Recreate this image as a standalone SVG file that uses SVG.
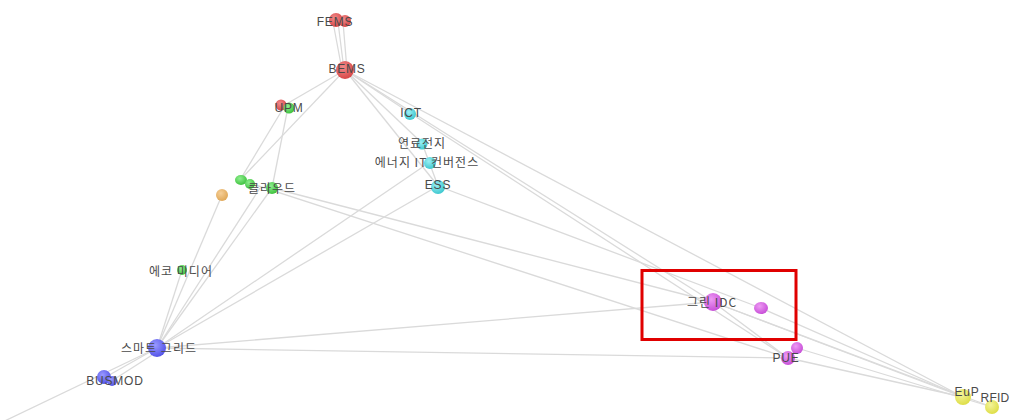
<svg xmlns="http://www.w3.org/2000/svg" width="1011" height="420" viewBox="0 0 1011 420">
<defs>
<radialGradient id="gR" cx="40%" cy="35%" r="65%"><stop offset="0" stop-color="#f08a8a"/><stop offset="1" stop-color="#d84848"/></radialGradient>
<radialGradient id="gG" cx="40%" cy="35%" r="65%"><stop offset="0" stop-color="#8fef8f"/><stop offset="1" stop-color="#3fc23f"/></radialGradient>
<radialGradient id="gC" cx="40%" cy="35%" r="65%"><stop offset="0" stop-color="#9af0f4"/><stop offset="1" stop-color="#40c8d0"/></radialGradient>
<radialGradient id="gO" cx="40%" cy="35%" r="65%"><stop offset="0" stop-color="#f6cf98"/><stop offset="1" stop-color="#e0a858"/></radialGradient>
<radialGradient id="gB" cx="40%" cy="35%" r="65%"><stop offset="0" stop-color="#9a9aff"/><stop offset="1" stop-color="#5454e8"/></radialGradient>
<radialGradient id="gM" cx="40%" cy="35%" r="65%"><stop offset="0" stop-color="#ee9af4"/><stop offset="1" stop-color="#c850d8"/></radialGradient>
<radialGradient id="gY" cx="40%" cy="35%" r="65%"><stop offset="0" stop-color="#f4f49a"/><stop offset="1" stop-color="#dede48"/></radialGradient>
</defs>
<style>
.e{stroke:#dadada;stroke-width:1.3;fill:none}
.t{font-family:"Liberation Sans","Noto Sans CJK KR",sans-serif;font-size:12px;letter-spacing:0.8px;fill:#4a4a4a;text-anchor:middle;dominant-baseline:central}
.k{font-family:"Noto Sans CJK KR","Liberation Sans",sans-serif;font-size:12px;letter-spacing:1px;fill:#4a4a4a;text-anchor:middle;dominant-baseline:central}
</style>
<rect width="1011" height="420" fill="#fff"/>
<g id="connectors">
<line class="e" x1="338" y1="22" x2="344" y2="70"/>
<line class="e" x1="343" y1="22" x2="347" y2="70"/>
<line class="e" x1="333" y1="22" x2="342" y2="70"/>
<line class="e" x1="345" y1="70" x2="283" y2="106"/>
<line class="e" x1="345" y1="70" x2="240" y2="180"/>
<line class="e" x1="345" y1="70" x2="410" y2="113"/>
<line class="e" x1="345" y1="70" x2="422" y2="143"/>
<line class="e" x1="345" y1="70" x2="438" y2="186"/>
<line class="e" x1="345" y1="70" x2="713" y2="302"/>
<line class="e" x1="345" y1="70" x2="963" y2="397"/>
<line class="e" x1="410" y1="113" x2="788" y2="358"/>
<line class="e" x1="422" y1="143" x2="438" y2="186"/>
<line class="e" x1="288" y1="107" x2="272" y2="188"/>
<line class="e" x1="284" y1="107" x2="240" y2="180"/>
<line class="e" x1="272" y1="188" x2="713" y2="302"/>
<line class="e" x1="240" y1="180" x2="788" y2="358"/>
<line class="e" x1="438" y1="186" x2="761" y2="308"/>
<line class="e" x1="438" y1="186" x2="157" y2="348"/>
<line class="e" x1="430" y1="162" x2="157" y2="348"/>
<line class="e" x1="272" y1="188" x2="157" y2="348"/>
<line class="e" x1="260" y1="188" x2="157" y2="348"/>
<line class="e" x1="222" y1="195" x2="157" y2="348"/>
<line class="e" x1="182" y1="270" x2="157" y2="348"/>
<line class="e" x1="157" y1="348" x2="713" y2="302"/>
<line class="e" x1="157" y1="348" x2="788" y2="358"/>
<line class="e" x1="157" y1="348" x2="104" y2="378"/>
<line class="e" x1="160" y1="350" x2="110" y2="382"/>
<line class="e" x1="157" y1="348" x2="-10" y2="428"/>
<line class="e" x1="713" y1="302" x2="963" y2="397"/>
<line class="e" x1="713" y1="302" x2="992" y2="407"/>
<line class="e" x1="761" y1="308" x2="963" y2="397"/>
<line class="e" x1="788" y1="358" x2="963" y2="397"/>
<line class="e" x1="797" y1="348" x2="992" y2="407"/>
<line class="e" x1="713" y1="302" x2="788" y2="358"/>
</g>
<g id="n-fems"><circle cx="336" cy="20" r="7" fill="url(#gR)"/><circle cx="345" cy="21" r="6" fill="url(#gR)"/><text class="t" x="335" y="22">FEMS</text></g>
<g id="n-bems"><circle cx="345" cy="70" r="9" fill="url(#gR)"/><text class="t" x="347" y="69">BEMS</text></g>
<g id="n-upm"><circle cx="281" cy="105" r="5.5" fill="url(#gR)"/><circle cx="289" cy="108" r="5.5" fill="url(#gG)"/><text class="t" x="289" y="108">UPM</text></g>
<g id="n-ict"><circle cx="410" cy="114" r="6" fill="url(#gC)"/><text class="t" x="411" y="113">ICT</text></g>
<g id="n-fuel"><circle cx="422" cy="144" r="5.5" fill="url(#gC)"/><text class="k" x="422" y="142">연료전지</text></g>
<g id="n-eitc"><circle cx="430" cy="163" r="6" fill="url(#gC)"/><text class="k" x="427" y="161">에너지 IT 컨버전스</text></g>
<g id="n-ess"><circle cx="438" cy="187" r="7" fill="url(#gC)"/><text class="t" x="438" y="185">ESS</text></g>
<g id="n-cloud"><ellipse cx="241" cy="180" rx="6" ry="5" fill="url(#gG)"/><circle cx="250" cy="184" r="5" fill="url(#gG)"/><circle cx="272" cy="188" r="6" fill="url(#gG)"/><text class="k" x="272" y="187">클라우드</text></g>
<g id="n-orange"><circle cx="222" cy="195" r="6" fill="url(#gO)"/></g>
<g id="n-eco"><circle cx="182" cy="270" r="5" fill="url(#gG)"/><text class="k" x="181" y="270">에코 미디어</text></g>
<g id="n-smart"><circle cx="157" cy="348" r="9" fill="url(#gB)"/><text class="k" x="159" y="347">스마트 그리드</text></g>
<g id="n-busmod"><circle cx="104" cy="377" r="7" fill="url(#gB)"/><circle cx="112" cy="381" r="5" fill="url(#gB)"/><text class="t" x="115" y="381">BUSMOD</text></g>
<g id="n-gidc"><circle cx="713" cy="302" r="9" fill="url(#gM)"/><text class="k" x="712" y="301">그린 IDC</text></g>
<g id="n-m2"><ellipse cx="761" cy="308" rx="7" ry="6" fill="url(#gM)"/></g>
<g id="n-pue"><circle cx="797" cy="348" r="6" fill="url(#gM)"/><circle cx="788" cy="358" r="7" fill="url(#gM)"/><text class="t" x="786" y="358">PUE</text></g>
<g id="n-eup"><circle cx="963" cy="397" r="8" fill="url(#gY)"/><text class="t" x="967" y="392">EuP</text></g>
<g id="n-rfid"><circle cx="992" cy="407" r="7" fill="url(#gY)"/><text class="t" x="995" y="398" style="letter-spacing:0.2px">RFID</text></g>
<rect x="642" y="270.5" width="154" height="69" fill="none" stroke="#e00000" stroke-width="3"/>
</svg>
